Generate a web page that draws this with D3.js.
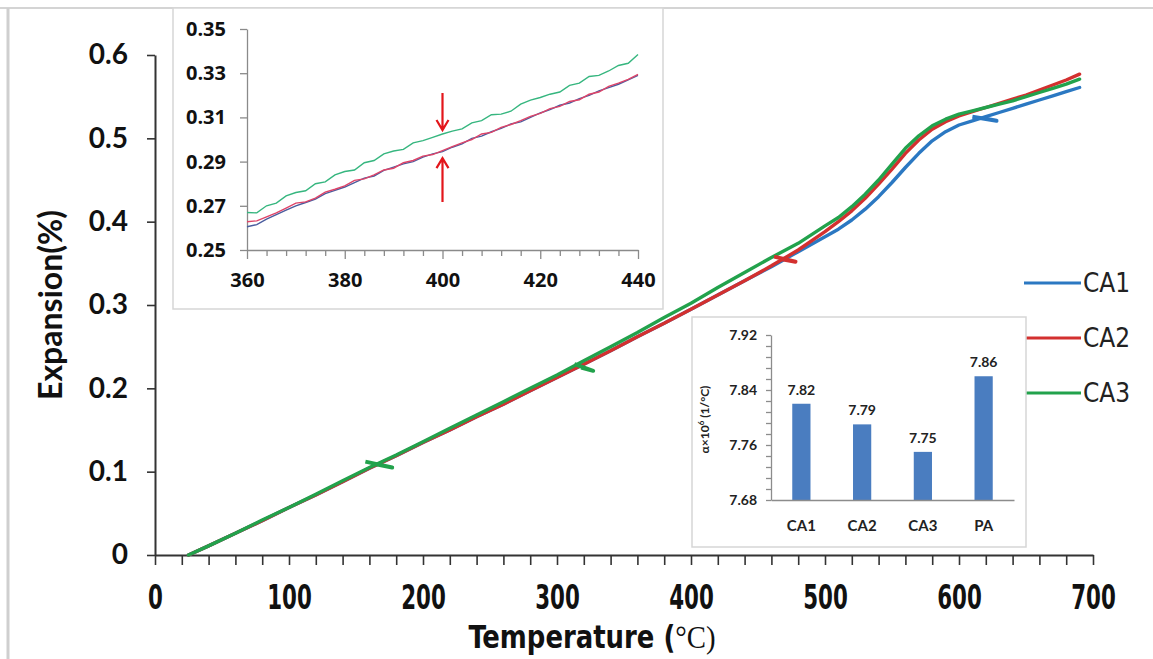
<!DOCTYPE html>
<html>
<head>
<meta charset="utf-8">
<script src="https://cdn.jsdelivr.net/npm/d3@7"></script>
<style>
  body { margin: 0; background: #fff; }
  svg { display: block; }
</style>
</head>
<body>
<div id="chart"></div>
<script>
// main dilatometer curves
const temps = [25, 40, 60, 80, 100, 120, 140, 160, 180, 200, 220, 240, 260, 280, 300, 320, 340, 360, 380, 400,
  420, 440, 460, 480, 500, 510, 520, 530, 540, 550, 560, 570, 580, 590, 600, 610, 620, 630, 640, 650, 660, 670, 680, 690]
const ca1 = [0, 0.011, 0.026, 0.041, 0.057, 0.072, 0.088, 0.104, 0.119, 0.135, 0.150, 0.166, 0.181, 0.197, 0.213, 0.229, 0.245, 0.262, 0.278, 0.295,
  0.312, 0.329, 0.346, 0.364, 0.382, 0.391, 0.402, 0.415, 0.430, 0.447, 0.465, 0.482, 0.497, 0.508, 0.516, 0.521, 0.526, 0.531, 0.536, 0.541, 0.546, 0.551, 0.556, 0.561]
const ca2 = [0, 0.011, 0.026, 0.041, 0.057, 0.072, 0.088, 0.104, 0.119, 0.135, 0.150, 0.166, 0.181, 0.197, 0.213, 0.229, 0.245, 0.262, 0.278, 0.295,
  0.312, 0.329, 0.347, 0.366, 0.388, 0.400, 0.413, 0.428, 0.445, 0.463, 0.482, 0.498, 0.511, 0.520, 0.527, 0.532, 0.537, 0.542, 0.547, 0.552, 0.558, 0.564, 0.570, 0.577]
const ca3 = [0, 0.011, 0.026, 0.042, 0.057, 0.073, 0.089, 0.105, 0.120, 0.136, 0.152, 0.168, 0.184, 0.200, 0.216, 0.233, 0.250, 0.267, 0.285, 0.302,
  0.321, 0.339, 0.357, 0.374, 0.395, 0.405, 0.418, 0.433, 0.450, 0.469, 0.488, 0.503, 0.515, 0.523, 0.529, 0.533, 0.537, 0.541, 0.545, 0.550, 0.555, 0.560, 0.565, 0.571]

// small hooks on the curves (holding steps)
const hooks = [
  { name: "CA3", pts: [[157, 0.112], [177, 0.105], [165, 0.109]] },
  { name: "CA3", pts: [[313, 0.229], [327, 0.221], [318, 0.225]] },
  { name: "CA2", pts: [[462, 0.358], [478, 0.352], [468, 0.355]] },
  { name: "CA1", pts: [[610, 0.526], [628, 0.521], [618, 0.524]] }
]

// zoomed inset 360-440 C
const inTemps = [360, 362, 364, 366, 368, 370, 372, 374, 376, 378, 380, 382, 384, 386, 388, 390, 392, 394, 396, 398, 400,
  402, 404, 406, 408, 410, 412, 414, 416, 418, 420, 422, 424, 426, 428, 430, 432, 434, 436, 438, 440]
const inCa1 = [0.2605, 0.2615, 0.2640, 0.2660, 0.2680, 0.2700, 0.2715, 0.2730, 0.2755, 0.2770, 0.2785, 0.2805, 0.2825, 0.2835, 0.2860, 0.2875, 0.2890, 0.2900, 0.2920, 0.2935, 0.2945,
  0.2965, 0.2980, 0.3005, 0.3015, 0.3035, 0.3050, 0.3070, 0.3080, 0.3100, 0.3120, 0.3135, 0.3155, 0.3165, 0.3185, 0.3200, 0.3220, 0.3235, 0.3250, 0.3270, 0.3290]
const inCa2 = [0.2628, 0.2632, 0.2650, 0.2668, 0.2690, 0.2712, 0.2718, 0.2735, 0.2762, 0.2775, 0.2790, 0.2815, 0.2822, 0.2840, 0.2862, 0.2870, 0.2895, 0.2905, 0.2925, 0.2932, 0.2950,
  0.2968, 0.2985, 0.3000, 0.3025, 0.3032, 0.3055, 0.3068, 0.3085, 0.3105, 0.3118, 0.3140, 0.3150, 0.3172, 0.3180, 0.3205, 0.3215, 0.3240, 0.3255, 0.3272, 0.3295]
const inCa3 = [0.2670, 0.2668, 0.2700, 0.2712, 0.2745, 0.2760, 0.2768, 0.2800, 0.2808, 0.2840, 0.2855, 0.2862, 0.2895, 0.2905, 0.2935, 0.2948, 0.2955, 0.2985, 0.2995, 0.3010, 0.3025,
  0.3038, 0.3048, 0.3075, 0.3085, 0.3112, 0.3115, 0.3128, 0.3160, 0.3178, 0.3190, 0.3205, 0.3215, 0.3245, 0.3255, 0.3285, 0.3290, 0.3310, 0.3335, 0.3345, 0.3385]
// red arrows at 400 C: [from, to]
const arrowT = 400
const arrows = [[0.3210, 0.3043], [0.2717, 0.2916]]

// CTE bar inset
const barCats = ["CA1", "CA2", "CA3", "PA"]
const barVals = [7.82, 7.79, 7.75, 7.86]
const barTicks = [7.68, 7.76, 7.84, 7.92]

const yTicks = [0, 0.1, 0.2, 0.3, 0.4, 0.5, 0.6]
const inYTicks = [0.25, 0.27, 0.29, 0.31, 0.33, 0.35]
const inXLabels = [360, 380, 400, 420, 440]

const series = [
  { name: "CA1", color: "#2b78c2", main: ca1, inset: inCa1, inColor: "#4a5c9e" },
  { name: "CA2", color: "#d3302f", main: ca2, inset: inCa2, inColor: "#de4468" },
  { name: "CA3", color: "#22a24c", main: ca3, inset: inCa3, inColor: "#36b67f" }
]
const colorOf = d3.scaleOrdinal(series.map(s => s.name), series.map(s => s.color))

const condensed = "'Liberation Sans Narrow', 'DejaVu Sans Condensed', sans-serif"
const sans = "Lato, 'Open Sans', sans-serif"

const width = 1153, height = 659
const svg = d3.select("#chart").append("svg")
  .attr("width", width).attr("height", height)
svg.append("rect").attr("width", width).attr("height", height).attr("fill", "#fff")

// faint frame of the scanned figure
svg.append("line").attr("x1", 0).attr("x2", width).attr("y1", 8).attr("y2", 8)
  .attr("stroke", "#d4d4d4").attr("stroke-width", 2)
svg.append("line").attr("x1", 8).attr("x2", 8).attr("y1", 8).attr("y2", height)
  .attr("stroke", "#cfcfcf").attr("stroke-width", 3)

// ---------- main chart
const x = d3.scaleLinear().domain([0, 700]).range([155, 1093])
const y = d3.scaleLinear().domain([0, 0.6]).range([555, 55])

const xAxis = svg.append("g")
  .attr("transform", `translate(0,${y(0)})`)
  .call(d3.axisBottom(x).tickValues(d3.range(0, 701, 20))
    .tickFormat(d => d % 100 === 0 ? d : "")
    .tickSize(10).tickPadding(21).tickSizeOuter(0))
xAxis.selectAll("text")
  .attr("transform", "scale(0.72,1)")
  .style("font-family", condensed)
  .style("font-weight", "bold").style("font-size", "33px").attr("fill", "#111")

const yAxis = svg.append("g")
  .attr("transform", `translate(${x(0)},0)`)
  .call(d3.axisLeft(y).tickValues(yTicks)
    .tickFormat(d => d === 0 ? "0" : d3.format(".1f")(d))
    .tickSize(8).tickPadding(19).tickSizeOuter(0))
yAxis.selectAll("text")
  .style("font-family", sans)
  .style("font-weight", "bold").style("font-size", "28px").attr("fill", "#111")

svg.selectAll(".domain").attr("stroke", "#333").attr("stroke-width", 2)
svg.selectAll(".tick line").attr("stroke", "#333").attr("stroke-width", 1.6)

svg.append("text")
  .attr("transform", `translate(51,${(y(0) + y(0.6)) / 2}) rotate(-90)`)
  .attr("text-anchor", "middle").attr("dy", "0.35em")
  .style("font-family", sans)
  .style("font-weight", "bold").style("font-size", "32px").attr("fill", "#111")
  .text("Expansion(%)")

const xTitle = svg.append("text")
  .attr("transform", "translate(592,648) scale(0.9,1)")
  .attr("text-anchor", "middle")
  .style("font-weight", "bold").attr("fill", "#111")
xTitle.append("tspan")
  .style("font-family", condensed)
  .style("font-size", "32px").text("Temperature (")
xTitle.append("tspan")
  .style("font-family", "'Liberation Serif', 'DejaVu Serif', serif").style("font-weight", "normal")
  .style("font-size", "32px").text("°C)")

const line = d3.line().x(d => x(d[0])).y(d => y(d[1]))
const mainG = svg.append("g")
series.forEach(s => {
  mainG.append("path")
    .datum(temps.map((t, i) => [t, s.main[i]]))
    .attr("fill", "none").attr("stroke", s.color)
    .attr("stroke-width", 3.4).attr("stroke-linejoin", "round").attr("stroke-linecap", "round")
    .attr("d", line)
})
hooks.forEach(h => {
  mainG.append("path")
    .datum(h.pts)
    .attr("fill", "none").attr("stroke", colorOf(h.name))
    .attr("stroke-width", 4).attr("stroke-linejoin", "round")
    .attr("d", line)
})

// legend
const legend = svg.append("g")
series.forEach((s, i) => {
  const ly = 283 + i * 55
  legend.append("line").attr("x1", 1024).attr("x2", 1081).attr("y1", ly).attr("y2", ly)
    .attr("stroke", s.color).attr("stroke-width", 3)
  legend.append("text").attr("x", 1083).attr("y", ly).attr("dy", "0.36em")
    .style("font-family", condensed)
    .style("font-size", "26px").attr("fill", "#222")
    .text(s.name)
})

// ---------- inset: 360-440 C zoom
const inset = svg.append("g")
inset.append("rect").attr("x", 173).attr("y", 8).attr("width", 490).attr("height", 301)
  .attr("fill", "#fff").attr("stroke", "#d6d6d6").attr("stroke-width", 1.5)

const xi = d3.scaleLinear().domain([360, 440]).range([247, 638])
const yi = d3.scaleLinear().domain([0.25, 0.35]).range([250, 29])

const xiAxis = inset.append("g").attr("transform", `translate(0,${yi(0.25)})`)
  .call(d3.axisBottom(xi).tickValues(d3.range(360, 441, 4))
    .tickFormat(d => inXLabels.includes(d) ? d : "")
    .tickSize(6).tickPadding(17).tickSizeOuter(0))
xiAxis.selectAll(".tick line").filter(d => inXLabels.includes(d)).attr("y2", 9)
const yiAxis = inset.append("g").attr("transform", `translate(${xi(360)},0)`)
  .call(d3.axisLeft(yi).tickValues(inYTicks).tickFormat(d3.format(".2f"))
    .tickSize(7).tickPadding(14).tickSizeOuter(0))
inset.selectAll(".domain, .tick line").attr("stroke", "#8a8a8a").attr("stroke-width", 1.3)
inset.selectAll(".tick text")
  .style("font-family", "'Open Sans', Lato, sans-serif")
  .style("font-weight", "bold").style("font-size", "20px").attr("fill", "#111")

const lineIn = d3.line().x(d => xi(d[0])).y(d => yi(d[1]))
series.slice().sort((a, b) => a.name === "CA3" ? 1 : b.name === "CA3" ? -1 : 0).forEach(s => {
  inset.append("path")
    .datum(inTemps.map((t, i) => [t, s.inset[i]]))
    .attr("fill", "none").attr("stroke", s.inColor).attr("stroke-width", 1.4)
    .attr("d", lineIn)
})

// red arrows
arrows.forEach(a => {
  const x0 = xi(arrowT), y0 = yi(a[0]), y1 = yi(a[1])
  const dir = y1 > y0 ? -1 : 1
  inset.append("path")
    .attr("d", `M${x0},${y0}L${x0},${y1}M${x0 - 6},${y1 + dir * 10}L${x0},${y1}L${x0 + 6},${y1 + dir * 10}`)
    .attr("fill", "none").attr("stroke", "#e3161b").attr("stroke-width", 2.2)
})

// ---------- inset: thermal expansion coefficient bars
const bars = svg.append("g")
bars.append("rect").attr("x", 692).attr("y", 317).attr("width", 334).attr("height", 230)
  .attr("fill", "#fff").attr("stroke", "#d6d6d6").attr("stroke-width", 1.5)

const xb = d3.scaleBand().domain(barCats).range([771, 1014]).paddingInner(0.7).paddingOuter(0.35)
const yb = d3.scaleLinear().domain([7.68, 7.92]).range([500, 335])

bars.selectAll(".bar").data(barCats).enter().append("rect")
  .attr("x", d => xb(d)).attr("width", xb.bandwidth())
  .attr("y", (d, i) => yb(barVals[i])).attr("height", (d, i) => yb(7.68) - yb(barVals[i]))
  .attr("fill", "#4a7dc0")

bars.selectAll(".val").data(barCats).enter().append("text")
  .attr("x", d => xb(d) + xb.bandwidth() / 2).attr("y", (d, i) => yb(barVals[i]) - 9)
  .attr("text-anchor", "middle")
  .style("font-family", sans)
  .style("font-weight", "bold").style("font-size", "14px").attr("fill", "#222")
  .text((d, i) => barVals[i].toFixed(2))

const ybAxis = bars.append("g").attr("transform", "translate(771,0)")
  .call(d3.axisLeft(yb).tickValues(d3.range(7.68, 7.921, 0.016))
    .tickFormat(d => barTicks.some(t => Math.abs(t - d) < 1e-6) ? d3.format(".2f")(d) : "")
    .tickSize(5).tickPadding(9).tickSizeOuter(0))
const xbAxis = bars.append("g").attr("transform", `translate(0,${yb(7.68)})`)
  .call(d3.axisBottom(xb).tickSize(0).tickPadding(20))
bars.selectAll(".domain, .tick line").attr("stroke", "#8c8c8c").attr("stroke-width", 1.3)
ybAxis.selectAll("text").style("font-size", "14px")
xbAxis.selectAll("text").style("font-size", "15px")
bars.selectAll(".tick text")
  .style("font-family", sans)
  .style("font-weight", "bold").attr("fill", "#222")

const yLab = bars.append("text")
  .attr("transform", `translate(709,${(yb(7.68) + yb(7.92)) / 2 + 2}) rotate(-90)`)
  .attr("text-anchor", "middle")
  .style("font-family", sans)
  .style("font-weight", "bold").style("font-size", "12px").attr("fill", "#222")
yLab.append("tspan").text("α×10")
yLab.append("tspan").attr("dy", "-5").style("font-size", "8px").text("6")
yLab.append("tspan").attr("dy", "5").text(" (1/°C)")
</script>
</body>
</html>
